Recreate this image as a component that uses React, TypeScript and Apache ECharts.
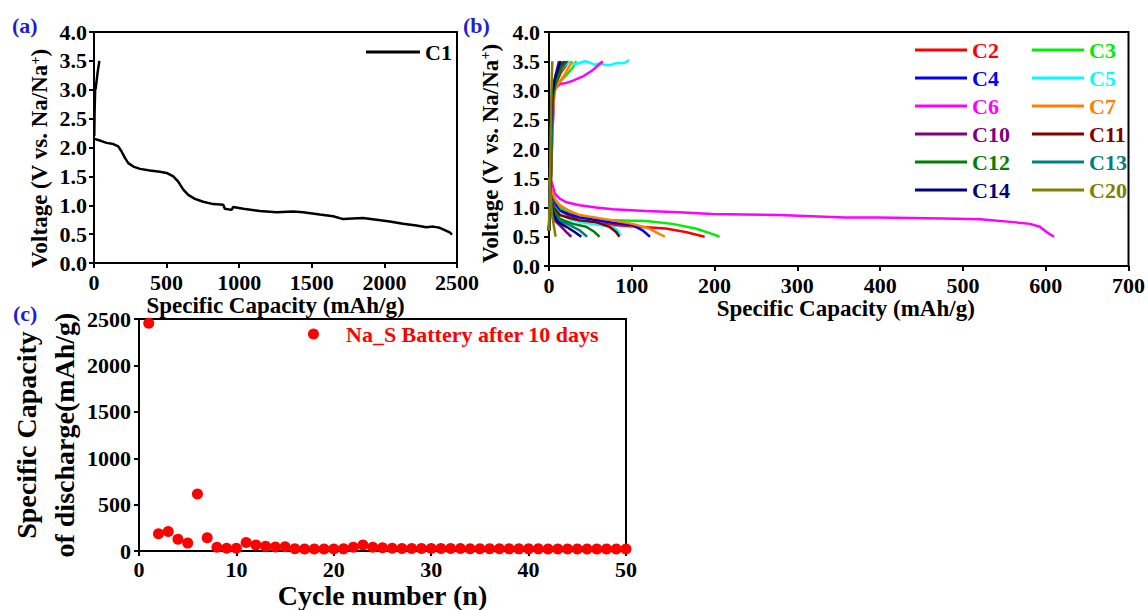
import React, { useEffect, useRef } from 'react';
import * as echarts from 'echarts';

// ---------- Data ----------
// (a) first cycle
const c1Charge = [[2, 2.2], [4, 2.6], [8, 3.0], [12, 3.03], [25, 3.3], [37, 3.5]];
const c1Discharge = [
  [2, 2.15], [41, 2.12], [87, 2.08], [133, 2.06], [167, 2.02], [190, 1.93], [213, 1.82], [236, 1.73],
  [271, 1.67], [317, 1.63], [385, 1.6], [454, 1.58], [500, 1.56], [546, 1.5], [580, 1.41], [615, 1.27],
  [649, 1.18], [695, 1.11], [752, 1.06], [821, 1.02], [890, 1.01], [901, 0.94], [947, 0.92], [959, 0.97],
  [1028, 0.94], [1142, 0.9], [1257, 0.88], [1372, 0.89], [1440, 0.88], [1555, 0.84], [1647, 0.81],
  [1716, 0.76], [1784, 0.77], [1853, 0.78], [1945, 0.75], [2037, 0.72], [2128, 0.68], [2220, 0.65],
  [2289, 0.62], [2335, 0.63], [2381, 0.61], [2450, 0.53], [2466, 0.49],
];

// (b) later cycles
const cycleNames = ['C2', 'C3', 'C4', 'C5', 'C6', 'C7', 'C10', 'C11', 'C12', 'C13', 'C14', 'C20'];
const c2Charge = [[0, 0.6], [2, 1.3], [3, 2.2], [5, 2.9], [8, 3.1], [14, 3.3], [24, 3.5]];
const c2Discharge = [[3, 1.3], [7, 1.1], [13, 0.95], [25, 0.85], [37, 0.78], [77, 0.7], [109, 0.67], [141, 0.64], [165, 0.58], [188, 0.5]];
const c3Charge = [[0, 0.6], [2, 1.3], [4, 2.3], [6, 2.95], [10, 3.1], [20, 3.25], [28, 3.38], [33, 3.5]];
const c3Discharge = [[3, 1.3], [7, 1.12], [13, 1.0], [25, 0.9], [37, 0.84], [77, 0.78], [117, 0.77], [149, 0.72], [177, 0.64], [197, 0.55], [206, 0.5]];
const c4Charge = [[0, 0.6], [2, 1.3], [3, 2.2], [5, 2.95], [8, 3.15], [14, 3.35], [20, 3.5]];
const c4Discharge = [[2, 1.25], [6, 1.08], [13, 0.95], [25, 0.88], [37, 0.83], [77, 0.74], [101, 0.7], [113, 0.61], [122, 0.5]];
const c5Charge = [[0, 0.6], [2, 1.3], [3, 2.2], [5, 3.0], [10, 3.25], [18, 3.42], [25, 3.49], [31, 3.45], [37, 3.47], [43, 3.5], [49, 3.48], [55, 3.44], [61, 3.46], [67, 3.44], [73, 3.43], [79, 3.46], [85, 3.47], [91, 3.47], [97, 3.52]];
const c5Discharge = [[2, 1.2], [6, 1.02], [13, 0.89], [25, 0.8], [37, 0.75], [61, 0.7], [77, 0.67], [83, 0.61], [86, 0.52]];
const c6Charge = [[0, 0.6], [2, 1.4], [4, 2.2], [6, 2.85], [7, 3.03], [13, 3.11], [21, 3.13], [29, 3.17], [41, 3.24], [53, 3.35], [65, 3.5]];
const c6Discharge = [[3, 1.45], [7, 1.24], [13, 1.15], [21, 1.09], [37, 1.04], [57, 1.0], [77, 0.97], [117, 0.94], [157, 0.92], [197, 0.89], [237, 0.88], [277, 0.87], [317, 0.85], [357, 0.83], [397, 0.83], [437, 0.82], [477, 0.81], [521, 0.8], [561, 0.75], [581, 0.72], [593, 0.67], [601, 0.58], [610, 0.5]];
const c7Charge = [[0, 0.6], [2, 1.3], [4, 2.3], [6, 2.95], [10, 3.1], [18, 3.25], [24, 3.4], [28, 3.5]];
const c7Discharge = [[3, 1.3], [7, 1.15], [13, 1.04], [25, 0.94], [37, 0.87], [77, 0.78], [101, 0.72], [121, 0.64], [133, 0.55], [140, 0.5]];
const c10Charge = [[0, 0.6], [1, 1.3], [2, 2.2], [4, 2.95], [7, 3.2], [12, 3.5]];
const c10Discharge = [[2, 1.1], [4, 0.9], [7, 0.78], [11, 0.72], [15, 0.67], [21, 0.58], [27, 0.5]];
const c11Charge = [[0, 0.6], [2, 1.3], [3, 2.2], [5, 2.95], [9, 3.2], [14, 3.4], [18, 3.5]];
const c11Discharge = [[2, 1.2], [6, 1.0], [13, 0.87], [25, 0.82], [37, 0.78], [57, 0.75], [73, 0.67], [81, 0.58], [85, 0.5]];
const c12Charge = [[0, 0.6], [2, 1.3], [3, 2.2], [5, 2.95], [10, 3.2], [16, 3.4], [22, 3.5]];
const c12Discharge = [[2, 1.15], [6, 0.95], [13, 0.81], [21, 0.76], [29, 0.72], [45, 0.67], [55, 0.58], [61, 0.5]];
const c13Charge = [[0, 0.6], [1, 1.3], [3, 2.2], [4, 2.95], [8, 3.25], [15, 3.5]];
const c13Discharge = [[2, 1.1], [6, 0.9], [11, 0.78], [18, 0.74], [25, 0.7], [37, 0.61], [46, 0.5]];
const c14Charge = [[0, 0.6], [1, 1.3], [2, 2.2], [4, 2.95], [8, 3.25], [14, 3.5]];
const c14Discharge = [[2, 1.1], [6, 0.87], [11, 0.75], [21, 0.67], [31, 0.58], [39, 0.5]];
const c20Charge = [[0, 0.6], [1, 1.3], [2, 2.2], [3, 3.0], [4, 3.5]];
const c20Discharge = [[0, 1.52], [2, 1.2], [3, 1.0], [4, 0.85], [6, 0.67], [8, 0.5]];

const cycleCharges = [c2Charge, c3Charge, c4Charge, c5Charge, c6Charge, c7Charge, c10Charge, c11Charge, c12Charge, c13Charge, c14Charge, c20Charge];
const cycleDischarges = [c2Discharge, c3Discharge, c4Discharge, c5Discharge, c6Discharge, c7Discharge, c10Discharge, c11Discharge, c12Discharge, c13Discharge, c14Discharge, c20Discharge];

// (c) discharge capacity vs cycle
const cycleNumbers = [1, 2, 3, 4, 5, 6, 7, 8, 9, 10, 11, 12, 13, 14, 15, 16, 17, 18, 19, 20, 21, 22, 23, 24, 25, 26, 27, 28, 29, 30, 31, 32, 33, 34, 35, 36, 37, 38, 39, 40, 41, 42, 43, 44, 45, 46, 47, 48, 49, 50];
const dischargeCapacity = [2455, 188, 212, 127, 86, 616, 144, 41, 31, 31, 92, 65, 51, 45, 48, 25, 22, 22, 22, 22, 24, 41, 65, 41, 35, 30, 28, 28, 27, 27, 27, 27, 27, 26, 26, 25, 25, 24, 24, 24, 24, 23, 23, 23, 23, 22, 22, 22, 22, 22];
const scatterName = 'Na_S Battery after 10 days';

// ---------- Styles ----------
const FONT = "'Liberation Serif', 'Times New Roman', serif";
const cycleColors = ['#ff0000', '#00ee00', '#0000ff', '#00ffff', '#ff00ff', '#ff8000', '#800080', '#800000', '#008000', '#008080', '#000080', '#808000'];

const tickLabel = { fontFamily: FONT, fontWeight: 'bold', fontSize: 22, color: '#000' } as any;
const plain = (v: number) => String(v);

function axis(gridIndex: number, min: number, max: number, interval: number, extra: any) {
  return {
    type: 'value',
    gridIndex,
    min,
    max,
    interval,
    nameLocation: 'middle',
    axisLine: { show: true, lineStyle: { color: '#000', width: 2 } },
    axisTick: { show: true, inside: false, length: 5, lineStyle: { color: '#000', width: 2 } },
    splitLine: { show: false },
    axisLabel: { ...tickLabel, margin: 8, formatter: plain },
    ...extra,
  };
}

const voltName = '{m|Voltage (V vs. Na/Na}{s|+}{m|)}';
const voltNameStyle = (padRight: number) => ({
  fontFamily: FONT, fontWeight: 'bold', fontSize: 23, color: '#000',
  padding: [0, padRight, 0, 0],
  rich: {
    m: { fontFamily: FONT, fontWeight: 'bold', fontSize: 23, color: '#000' },
    s: { fontFamily: FONT, fontWeight: 'bold', fontSize: 14, color: '#000', verticalAlign: 'top' },
  },
});

function buildOption() {
  const series: any[] = [];
  series.push({ name: 'C1', type: 'line', xAxisIndex: 0, yAxisIndex: 0, data: c1Discharge, showSymbol: false, symbol: 'none', lineStyle: { width: 2.5, color: '#000' }, itemStyle: { color: '#000' } });
  series.push({ name: 'C1', type: 'line', xAxisIndex: 0, yAxisIndex: 0, data: c1Charge, showSymbol: false, symbol: 'none', lineStyle: { width: 2.5, color: '#000' }, itemStyle: { color: '#000' } });
  cycleNames.forEach((n, i) => {
    [cycleCharges[i], cycleDischarges[i]].forEach((d) => {
      series.push({ name: n, type: 'line', xAxisIndex: 1, yAxisIndex: 1, data: d, showSymbol: false, symbol: 'none', lineStyle: { width: 2.5, color: cycleColors[i] }, itemStyle: { color: cycleColors[i] } });
    });
  });
  series.push({
    name: scatterName, type: 'scatter', xAxisIndex: 2, yAxisIndex: 2, symbol: 'circle', symbolSize: 11,
    data: cycleNumbers.map((c, i) => [c, dischargeCapacity[i]]), itemStyle: { color: '#ff0000', opacity: 1 },
  });

  const legendText = { fontFamily: FONT, fontWeight: 'bold', fontSize: 22 };
  const col1 = [0, 2, 4, 6, 8, 10];
  const col2 = [1, 3, 5, 7, 9, 11];
  const colLegend = (idxs: number[], left: number) => ({
    left, top: 39, orient: 'vertical', padding: 0, itemGap: 6, itemWidth: 52, itemHeight: 3, icon: 'rect', selectedMode: false,
    textStyle: legendText,
    data: idxs.map((i) => ({ name: cycleNames[i], textStyle: { color: cycleColors[i] } })),
  });

  return {
    animation: false,
    backgroundColor: '#fff',
    textStyle: { fontFamily: FONT, fontWeight: 'bold' },
    grid: [
      { left: 94, top: 32, width: 363, height: 231, show: true, borderColor: '#000', borderWidth: 2 },
      { left: 549, top: 32, width: 582, height: 234, show: true, borderColor: '#000', borderWidth: 2 },
      { left: 139, top: 319, width: 487, height: 243, show: true, borderColor: '#000', borderWidth: 2 },
    ],
    xAxis: [
      axis(0, 0, 2500, 500, { name: 'Specific Capacity (mAh/g)', nameGap: 28, nameTextStyle: { fontFamily: FONT, fontWeight: 'bold', fontSize: 23, color: '#000' } }),
      axis(1, 0, 700, 100, { name: 'Specific Capacity (mAh/g)', nameGap: 28, nameTextStyle: { fontFamily: FONT, fontWeight: 'bold', fontSize: 23, color: '#000', padding: [0, 0, 0, 14] } }),
      axis(2, 0, 50, 10, { name: 'Cycle number (n)', nameGap: 22, axisLabel: { ...tickLabel, margin: 7, formatter: plain }, nameTextStyle: { fontFamily: FONT, fontWeight: 'bold', fontSize: 28, color: '#000' } }),
    ],
    yAxis: [
      axis(0, 0, 4, 0.5, { name: voltName, nameGap: 43, nameTextStyle: voltNameStyle(22), axisLabel: { ...tickLabel, margin: 7, formatter: (v: number) => v.toFixed(1) } }),
      axis(1, 0, 4, 0.5, { name: voltName, nameGap: 47, nameTextStyle: voltNameStyle(9), axisLabel: { ...tickLabel, margin: 9, formatter: (v: number) => v.toFixed(1) } }),
      axis(2, 0, 2500, 500, { name: 'Specific Capacity\nof discharge(mAh/g)', nameGap: 44, nameTextStyle: { fontFamily: FONT, fontWeight: 'bold', fontSize: 28, lineHeight: 38, color: '#000' }, axisLabel: { ...tickLabel, margin: 8, formatter: plain } }),
    ],
    legend: [
      { left: 366, top: 41, padding: 0, itemWidth: 54, itemHeight: 3, icon: 'rect', selectedMode: false, textStyle: { ...legendText, color: '#000' }, data: ['C1'] },
      colLegend(col1, 915),
      colLegend(col2, 1032),
      { left: 308, top: 323, padding: 0, itemWidth: 55, itemHeight: 11, icon: 'circle', selectedMode: false, textStyle: { ...legendText, color: '#ff0000' }, data: [scatterName] },
    ],
    graphic: [
      { type: 'text', left: 12, top: 14, style: { text: '(a)', fontFamily: FONT, fontWeight: 'bold', fontSize: 22, fill: '#1f1fd0' } },
      { type: 'text', left: 463, top: 14, style: { text: '(b)', fontFamily: FONT, fontWeight: 'bold', fontSize: 22, fill: '#1f1fd0' } },
      { type: 'text', left: 13, top: 302, style: { text: '(c)', fontFamily: FONT, fontWeight: 'bold', fontSize: 22, fill: '#1f1fd0' } },
    ],
    series,
  };
}

export default function App() {
  const ref = useRef<HTMLDivElement>(null);
  useEffect(() => {
    const chart = echarts.init(ref.current!, null, { renderer: 'svg' });
    chart.setOption(buildOption() as any);
    return () => chart.dispose();
  }, []);
  return <div ref={ref} style={{ position: 'absolute', left: 0, top: 0, width: 1148, height: 610, background: '#fff' }} />;
}
